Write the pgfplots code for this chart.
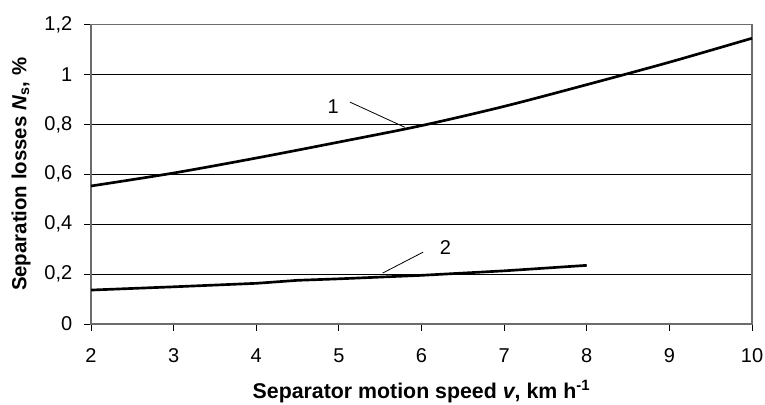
\documentclass[border=0pt]{standalone}
\usepackage{fontspec}
\setmainfont{Liberation Sans}
\usepackage{pgfplots}
\pgfplotsset{compat=1.18}
\begin{document}
\begin{tikzpicture}
\begin{axis}[
  scale only axis, width=495.75pt, height=224.6pt,
  xmin=2, xmax=10, ymin=0, ymax=1.2,
  xtick={2,3,4,5,6,7,8,9,10}, ytick={0,0.2,0.4,0.6,0.8,1,1.2},
  ymajorgrids, major grid style={black, line width=0.6pt},
  axis line style={gray!85!black, line width=0.9pt},
  tick style={black, line width=0.6pt},
  tick align=outside, major tick length=5pt,
  xtick pos=bottom, ytick pos=left,
  /pgf/number format/use comma, /pgf/number format/assume math mode=true,
  ticklabel style={font=\fontsize{15}{16}\selectfont},
  xticklabel style={yshift=-10pt},
  yticklabel style={xshift=-5.5pt},
  clip=false,
]
\addplot[black, line width=2pt, smooth] coordinates {
 (2,0.553) (3,0.605) (4,0.665) (5,0.729) (6,0.795) (7,0.872) (8,0.959) (9,1.049) (10,1.145)};
\addplot[black, line width=2pt] coordinates {
 (2,0.136) (3,0.149) (4,0.163) (4.5,0.175) (5,0.181) (6,0.195) (7,0.213) (8,0.235)};
\draw[black, line width=0.6pt] (axis cs:5.135,0.889) -- (axis cs:5.80,0.788);
\node[font=\fontsize{15}{16}\selectfont] at (axis cs:4.93,0.872) {1};
\draw[black, line width=0.6pt] (axis cs:5.53,0.204) -- (axis cs:6.02,0.288);
\node[font=\fontsize{15}{16}\selectfont] at (axis cs:6.29,0.308) {2};
\node[font=\fontsize{16}{17}\selectfont\bfseries, anchor=base] at ([yshift=-56pt]rel axis cs:0.5,0) {Separator motion speed \textit{v}, km h\textsuperscript{-1}};
\node[font=\fontsize{15.3}{16}\selectfont\bfseries, rotate=90] at ([xshift=-52.5pt]rel axis cs:0,0.5) {Separation losses \textit{N}\textsubscript{s}, \%};
\coordinate (sw) at (rel axis cs:0,0);
\coordinate (ne) at (rel axis cs:1,1);
\end{axis}
\pgfresetboundingbox
\path[use as bounding box] ([shift={(-68.25pt,-60.75pt)}]sw) rectangle ([shift={(9.75pt,18.4pt)}]ne);
\end{tikzpicture}
\end{document}
